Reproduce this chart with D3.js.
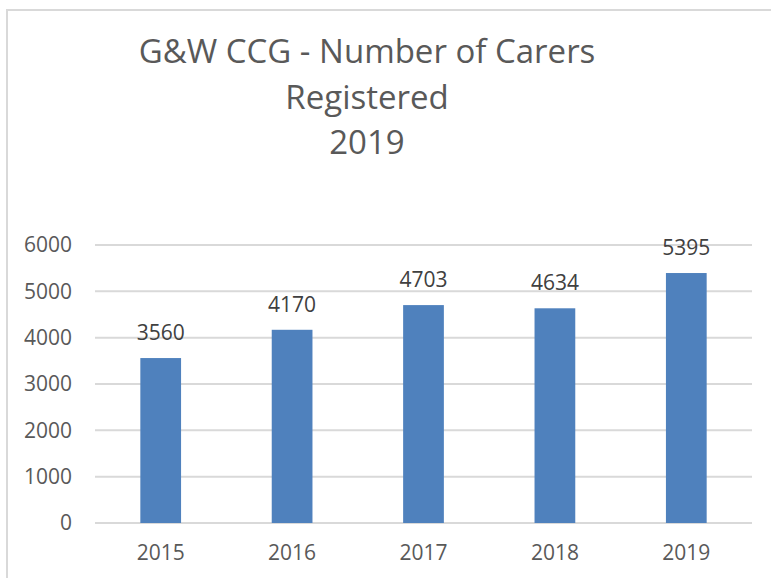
<!DOCTYPE html>
<html>
<head>
<meta charset="utf-8">
<script src="https://cdn.jsdelivr.net/npm/d3@7"></script>
<style>
  html, body { margin: 0; padding: 0; background: #fff; overflow: hidden; }
  svg { display: block; font-family: "Open Sans", sans-serif; }
</style>
</head>
<body>
<svg id="chart"></svg>
<script>
const titleLines = ["G&W CCG - Number of Carers", "Registered", "2019"];
const years = ["2015", "2016", "2017", "2018", "2019"];
const carers = [3560, 4170, 4703, 4634, 5395];
const yTicks = [0, 1000, 2000, 3000, 4000, 5000, 6000];

const W = 771, H = 578;
const svg = d3.select("#chart").attr("width", W).attr("height", H);

// chart frame (runs off the right and bottom edges)
svg.append("rect")
  .attr("x", 7).attr("y", 10)
  .attr("width", 820).attr("height", 620)
  .attr("fill", "#fff")
  .attr("stroke", "#d9d9d9")
  .attr("stroke-width", 2);

// title
svg.append("g")
  .selectAll("text")
  .data(titleLines)
  .enter()
  .append("text")
  .attr("x", 367)
  .attr("y", (d, i) => 63 + i * 45.5)
  .attr("text-anchor", "middle")
  .attr("fill", "#595959")
  .attr("font-size", 33)
  .text((d) => d);

const plot = { left: 95, right: 752, top: 245, bottom: 523 };

const x = d3.scaleBand()
  .domain(years)
  .range([plot.left, plot.right])
  .paddingInner(0.69)
  .paddingOuter(0.345);

const y = d3.scaleLinear().domain([0, 6000]).range([plot.bottom, plot.top]);

// gridlines
svg.append("g")
  .selectAll("line")
  .data(yTicks)
  .enter()
  .append("line")
  .attr("x1", plot.left)
  .attr("x2", plot.right)
  .attr("y1", (d) => y(d))
  .attr("y2", (d) => y(d))
  .attr("stroke", "#d9d9d9")
  .attr("stroke-width", 2);

// y axis labels
const yAxis = svg.append("g")
  .attr("transform", `translate(${plot.left},0)`)
  .call(d3.axisLeft(y).tickValues(yTicks).tickSize(0).tickPadding(23).tickFormat(d3.format("d")));
yAxis.select(".domain").remove();
yAxis.selectAll("text")
  .attr("font-family", "Open Sans, sans-serif")
  .attr("font-size", 21)
  .attr("fill", "#595959");

// x axis labels
const xAxis = svg.append("g")
  .attr("transform", `translate(0,${plot.bottom})`)
  .call(d3.axisBottom(x).tickSize(0).tickPadding(22));
xAxis.select(".domain").remove();
xAxis.selectAll("text")
  .attr("font-family", "Open Sans, sans-serif")
  .attr("font-size", 21)
  .attr("fill", "#595959");

// bars
svg.append("g")
  .selectAll("rect")
  .data(carers)
  .enter()
  .append("rect")
  .attr("x", (d, i) => x(years[i]))
  .attr("y", (d) => y(d))
  .attr("width", x.bandwidth())
  .attr("height", (d) => y(0) - y(d))
  .attr("fill", "#4f81bd");

// data labels
svg.append("g")
  .selectAll("text")
  .data(carers)
  .enter()
  .append("text")
  .attr("x", (d, i) => x(years[i]) + x.bandwidth() / 2)
  .attr("y", (d) => y(d) - 18)
  .attr("text-anchor", "middle")
  .attr("font-size", 21)
  .attr("fill", "#404040")
  .text((d) => d);
</script>
</body>
</html>
